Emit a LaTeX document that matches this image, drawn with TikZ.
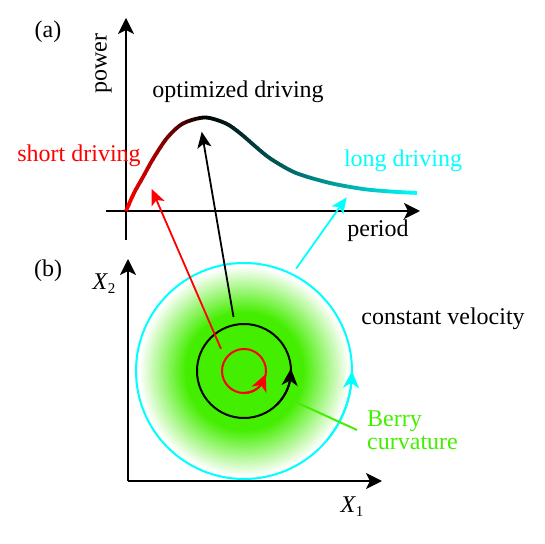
\documentclass[tikz,border=0pt]{standalone}
\usepackage{fontspec}
\setmainfont{Liberation Serif}
\usetikzlibrary{calc, positioning, arrows.meta, bending}
\definecolor{berry}{HTML}{44EE00}
\definecolor{vcyan}{HTML}{00FFFF}
\definecolor{vred}{HTML}{FF0000}
\pgfdeclareradialshading{berryglow}{\pgfpointorigin}{color(0bp)=(berry); color(14bp)=(berry); color(25bp)=(white); color(50bp)=(white)}
\newcommand{\lblfont}{\fontsize{24pt}{23pt}\selectfont}

\begin{document}
\begin{tikzpicture}[x=1pt, y=1pt,
  axis/.style={line width=2pt, -{Stealth[length=16pt, width=16pt, inset=4pt]}},
  pointer/.style={line width=1.8pt, -{Stealth[length=16pt, width=14pt, inset=4pt]}},
  loop/.style={line width=2pt},
  looptip/.style={line width=2pt, -{Stealth[length=17pt, width=16pt, inset=5pt, flex]}},
  txt/.style={font=\lblfont, inner sep=0pt}]
  \useasboundingbox (0,0) rectangle (545,543);

  % (a) power against period
  \coordinate (yaLow) at (126,303);
  \coordinate (yaTop) at (126,525);
  \coordinate (xaLow) at (106,332);
  \coordinate (xaTop) at (420,332);
  \draw[axis] (yaLow) -- (yaTop);
  \draw[axis] (xaLow) -- (xaTop);

  \def\powercurve{plot[smooth] coordinates {(126,332) (134,350) (143,366) (153,384) (167,405) (183,419.5) (205,425.5) (226,419.5) (241,409) (256,396) (271,384) (296,370) (330,360) (363,354) (390,351.5) (417,350)}}
  \foreach \i in {0,...,74} {
    \pgfmathsetmacro{\xa}{122+4*\i}
    \pgfmathsetmacro{\xm}{\xa+2}
    \pgfmathsetmacro{\fr}{max(0,min(100,(\xm-126)/79*100))}
    \pgfmathsetmacro{\fc}{max(0,min(100,(\xm-205)/212*100))}
    \ifdim \xm pt<205pt \colorlet{seg}{black!\fr!vred}\else\colorlet{seg}{vcyan!\fc!black}\fi
    \begin{scope}
      \clip (\xa,300) rectangle (\xa+4.3,440);
      \draw[seg, line width=3.8pt] \powercurve;
    \end{scope}
  }

  \node[txt] (tagA) at (48,511) {(a)};
  \node[txt, rotate=90] (power) at (103.5,479) {power};
  \node[txt] (optimal) at (238,451) {optimized driving};
  \node[txt, text=vred] (short) at (79,387) {short driving};
  \node[txt, text=vcyan] (long) at (403,382.5) {long driving};
  \node[txt] (period) at (378,312) {period};

  % (b) loops in parameter space
  \coordinate (ob) at (128,62);
  \coordinate (ybTop) at (128,284);
  \coordinate (xbTop) at (382,62);
  \coordinate (C) at (244,172);

  \shade[shading=berryglow] (C) circle (105);
  \draw[axis] (ob) -- (ybTop);
  \draw[axis] (ob) -- (xbTop);

  \draw[vcyan, loop] (C) circle (108);
  \draw[loop] (C) circle (47);
  \draw[vred, loop] (C) circle (22);
  \draw[vcyan, looptip] (C) ++(-40:108) arc[start angle=-40, end angle=0, radius=108];
  \draw[looptip] (C) ++(-45:47) arc[start angle=-45, end angle=3, radius=47];
  \draw[vred, looptip] (C) ++(-90:22) arc[start angle=-90, end angle=-8, radius=22];

  \node[txt] (tagB) at (48,272) {(b)};
  \node[txt] (x2) at (104,259) {\textit{X}\raisebox{-0.35ex}{\fontsize{15pt}{15pt}\selectfont 2}};
  \node[txt] (x1) at (352,36) {\textit{X}\raisebox{-0.35ex}{\fontsize{15pt}{15pt}\selectfont 1}};
  \node[txt] (const) at (443,224) {constant velocity};
  \node[txt, text=berry, align=left, anchor=west, inner xsep=10pt] (berryTxt) at (357,113) {Berry\\curvature};

  \coordinate (glowFoot) at ($(C)+(-31:60)$);
  \draw[berry, line width=2pt] (glowFoot) -- (berryTxt.west);

  % pointers from loops to the curve
  \coordinate (shortFoot) at ($(C)+(136:32)$);
  \coordinate (optFoot) at ($(C)+(101:55)$);
  \coordinate (longFoot) at ($(C)+(63:115)$);
  \coordinate (shortTip) at (151.7,354);
  \coordinate (optTip) at (201.7,411.3);
  \coordinate (longTip) at (346.7,345.7);
  \draw[vred, pointer] (shortFoot) -- (shortTip);
  \draw[pointer] (optFoot) -- (optTip);
  \draw[vcyan, pointer] (longFoot) -- (longTip);
\end{tikzpicture}
\end{document}
